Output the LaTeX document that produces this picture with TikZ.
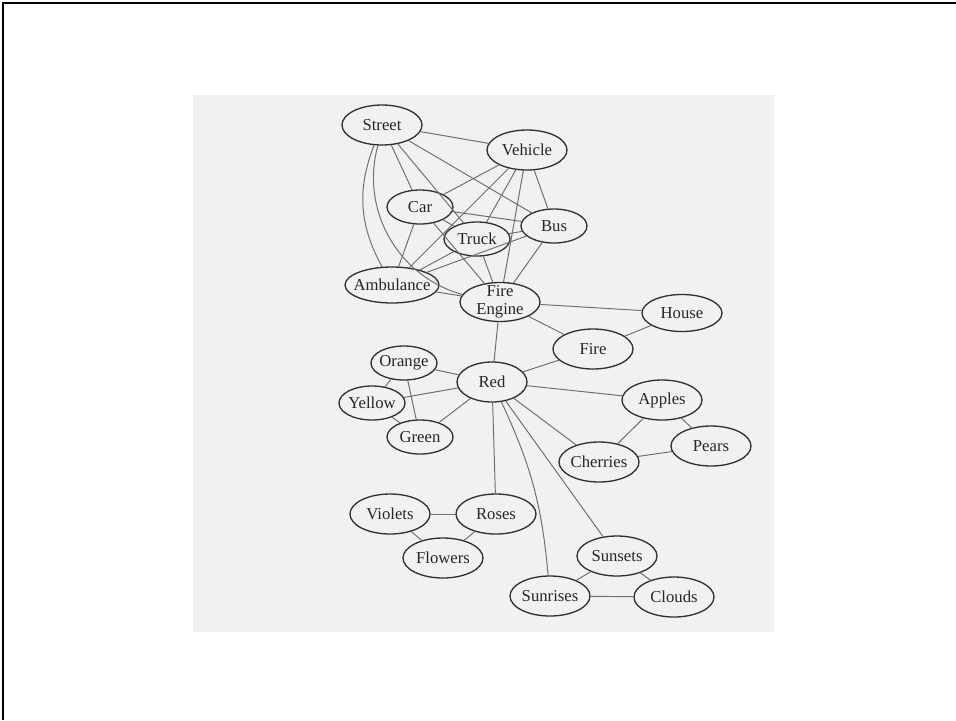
\documentclass[tikz,border=0pt]{standalone}
\usepackage{fontspec}
\setmainfont{Liberation Serif}
\usetikzlibrary{shapes.geometric}
\definecolor{scan}{HTML}{F1F1F1}
\definecolor{wire}{HTML}{6E6E6E}
\definecolor{rim}{HTML}{303030}
\begin{document}
\begin{tikzpicture}[x=0.02cm, y=-0.02cm,
  concept/.style={ellipse, draw=rim, line width=0.75pt, fill=scan, text=black!85,
    minimum width=1.6cm, minimum height=0.8cm, inner xsep=-6pt, inner ysep=-2pt,
    align=center, font=\fontsize{9.5}{10}\selectfont},
  small/.style={concept, minimum width=1.32cm, minimum height=0.68cm},
  link/.style={draw=wire, line width=0.55pt}]
\useasboundingbox (0,0) rectangle (956,720);
%\draw[very thin,color=gray] (0,0) grid[step=50] (956,720);
\fill[scan] (193,95) rectangle (774,632);
\draw[line width=1.6pt] (3,720) -- (3,3) -- (956,3);

% vehicles
\node[concept] (street) at (382,125) {Street};
\node[concept] (vehicle) at (527,150) {Vehicle};
\node[small] (car) at (420,207) {Car};
\node[small] (bus) at (554,226) {Bus};
\node[small] (truck) at (477,239) {Truck};
\node[concept, minimum width=1.88cm, minimum height=0.72cm] (ambulance) at (392,285) {Ambulance};
\node[concept, minimum height=0.78cm] (fireengine) at (500,302) {Fire\\Engine};
\node[concept, minimum height=0.74cm] (house) at (682,313) {House};
\node[concept] (fire) at (593,349) {Fire};
% colours
\node[small] (orange) at (404,363) {Orange};
\node[concept, minimum width=1.4cm] (red) at (492,382) {Red};
\node[small] (yellow) at (372,403) {Yellow};
\node[small] (green) at (420,437) {Green};
% fruit, flowers, sky
\node[concept] (apples) at (662,400) {Apples};
\node[concept] (pears) at (711,446) {Pears};
\node[concept] (cherries) at (599,462) {Cherries};
\node[concept] (violets) at (390,514) {Violets};
\node[concept] (roses) at (496,514) {Roses};
\node[concept] (flowers) at (443,558) {Flowers};
\node[concept] (sunsets) at (617,556) {Sunsets};
\node[concept] (sunrises) at (550,596) {Sunrises};
\node[concept] (clouds) at (674,597) {Clouds};

\draw[link] (street) -- (vehicle);
\draw[link] (street) -- (car);
\draw[link] (street) -- (truck);
\draw[link] (street) -- (bus);
\draw[link] (street) to[bend right=25] (ambulance);
\draw[link] (street) to[bend right=45] (fireengine);
\draw[link] (vehicle) -- (car);
\draw[link] (vehicle) -- (truck);
\draw[link] (vehicle) -- (bus);
\draw[link] (vehicle) -- (ambulance);
\draw[link] (vehicle) -- (fireengine);
\draw[link] (car) -- (bus);
\draw[link] (car) -- (truck);
\draw[link] (car) -- (ambulance);
\draw[link] (car) -- (fireengine);
\draw[link] (truck) -- (bus);
\draw[link] (truck) -- (ambulance);
\draw[link] (truck) -- (fireengine);
\draw[link] (bus) -- (ambulance);
\draw[link] (bus) -- (fireengine);
\draw[link] (ambulance) -- (fireengine);
\draw[link] (fireengine) -- (house);
\draw[link] (fireengine) -- (fire);
\draw[link] (fireengine) -- (red);
\draw[link] (house) -- (fire);
\draw[link] (fire) -- (red);

\draw[link] (red) -- (orange);
\draw[link] (red) -- (yellow);
\draw[link] (red) -- (green);
\draw[link] (orange) -- (yellow);
\draw[link] (orange) -- (green);
\draw[link] (yellow) -- (green);

\draw[link] (red) -- (apples);
\draw[link] (red) -- (cherries);
\draw[link] (apples) -- (pears);
\draw[link] (apples) -- (cherries);
\draw[link] (pears) -- (cherries);

\draw[link] (red) -- (roses);
\draw[link] (violets) -- (roses);
\draw[link] (violets) -- (flowers);
\draw[link] (roses) -- (flowers);

\draw[link] (red) -- (sunsets);
\draw[link] (red) to[bend left=10] (sunrises);
\draw[link] (sunsets) -- (sunrises);
\draw[link] (sunsets) -- (clouds);
\draw[link] (sunrises) -- (clouds);
\end{tikzpicture}
\end{document}
